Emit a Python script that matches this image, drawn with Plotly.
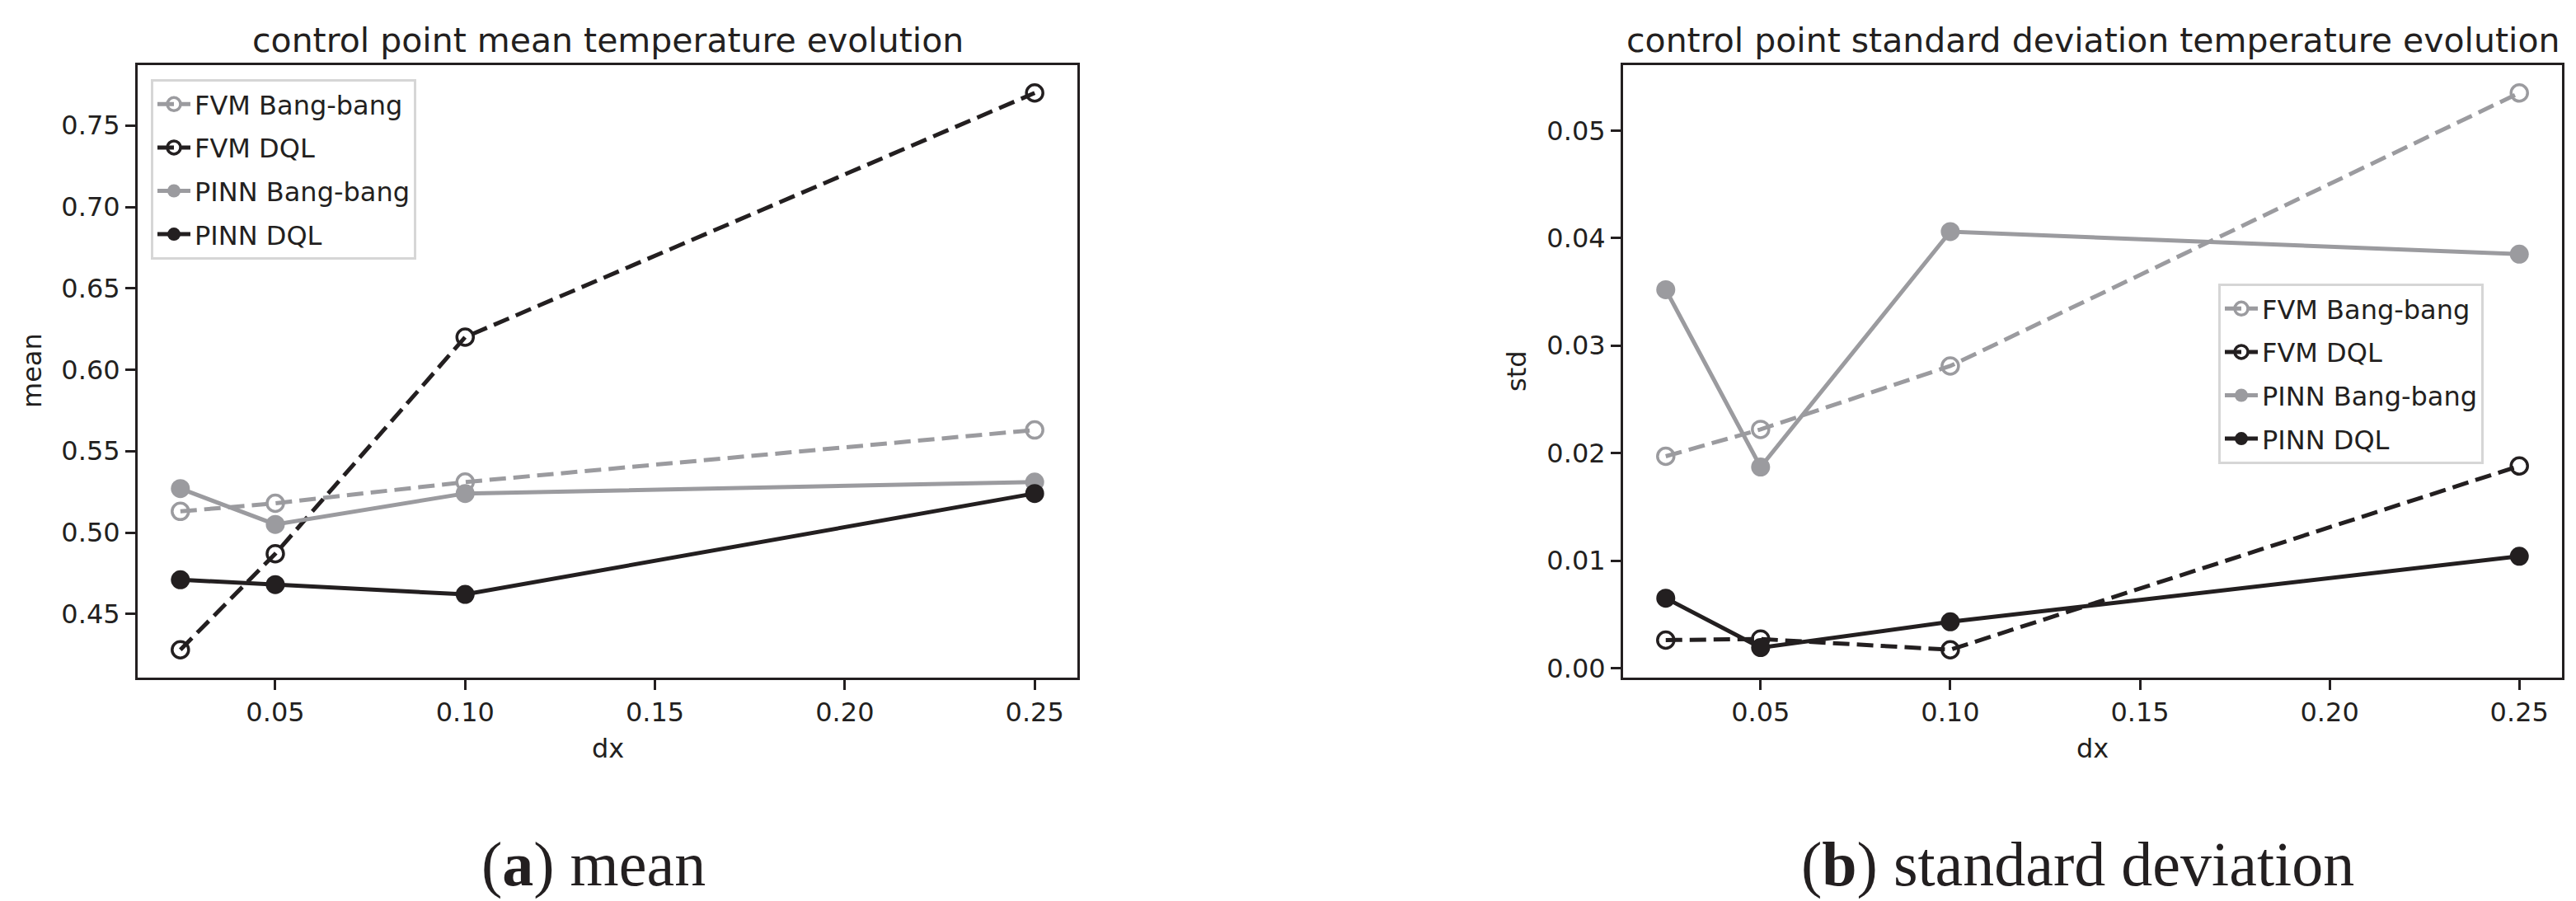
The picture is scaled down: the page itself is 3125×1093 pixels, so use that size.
import plotly.graph_objects as go

# ---------------- data ----------------
dx = [0.025, 0.05, 0.10, 0.25]

mean_fvm_bb = [0.513, 0.518, 0.531, 0.563]
mean_fvm_dql = [0.428, 0.487, 0.620, 0.770]
mean_pinn_bb = [0.527, 0.505, 0.524, 0.531]
mean_pinn_dql = [0.471, 0.468, 0.462, 0.524]

std_fvm_bb = [0.0197, 0.0222, 0.0281, 0.0535]
std_fvm_dql = [0.0026, 0.0027, 0.0017, 0.0188]
std_pinn_bb = [0.0352, 0.0187, 0.0406, 0.0385]
std_pinn_dql = [0.0065, 0.0019, 0.0043, 0.0104]

series_names = ["FVM Bang-bang", "FVM DQL", "PINN Bang-bang", "PINN DQL"]
x_ticks = [0.05, 0.10, 0.15, 0.20, 0.25]
mean_ticks = [0.45, 0.50, 0.55, 0.60, 0.65, 0.70, 0.75]
std_ticks = [0.00, 0.01, 0.02, 0.03, 0.04, 0.05]

titles = ["control point mean temperature evolution",
          "control point standard deviation temperature evolution"]
y_labels = ["mean", "std"]
x_label = "dx"
captions = ["(<b>a</b>) mean", "(<b>b</b>) standard deviation"]

# ---------------- style ----------------
W, H = 3125, 1093
GRAY = "#9b9b9f"
DARK = "#231f20"
FONT = "DejaVu Sans"
TICK_FS = 32
LW = 5
DASH = "20px,9px"


def px_x(p):
    return p / W


def px_y(p):
    return 1 - p / H


def auto_range(vals):
    lo, hi = min(vals), max(vals)
    m = 0.05 * (hi - lo)
    return [lo - m, hi + m]


fig = go.Figure()

panels = [
    (["x", "y"], [mean_fvm_bb, mean_fvm_dql, mean_pinn_bb, mean_pinn_dql], "legend"),
    (["x2", "y2"], [std_fvm_bb, std_fvm_dql, std_pinn_bb, std_pinn_dql], "legend2"),
]

styles = [
    dict(color=GRAY, dash=DASH, symbol="circle-open"),
    dict(color=DARK, dash=DASH, symbol="circle-open"),
    dict(color=GRAY, dash="solid", symbol="circle"),
    dict(color=DARK, dash="solid", symbol="circle"),
]

for (xa, ya), series, leg in panels:
    for name, vals, st in zip(series_names, series, styles):
        open_ = st["symbol"] == "circle-open"
        fig.add_trace(go.Scatter(
            x=dx, y=vals, name=name, mode="lines+markers",
            xaxis=xa, yaxis=ya, legend=leg,
            line=dict(color=st["color"], width=LW, dash=st["dash"]),
            marker=dict(symbol=st["symbol"], size=20 if open_ else 23,
                        color=st["color"],
                        line=dict(width=3.5 if open_ else 0, color=st["color"])),
            legendgroup=leg + name,
        ))

all_mean = mean_fvm_bb + mean_fvm_dql + mean_pinn_bb + mean_pinn_dql
all_std = std_fvm_bb + std_fvm_dql + std_pinn_bb + std_pinn_dql
x_range = auto_range(dx)

axis_common = dict(
    showline=True, linecolor=DARK, linewidth=3, mirror=True,
    ticks="outside", ticklen=12, tickwidth=3, tickcolor=DARK,
    showgrid=False, zeroline=False, automargin=False,
    tickfont=dict(family=FONT, size=TICK_FS, color=DARK),
)

ax_top, ax_bot = 71, 814
left_dom = [px_x(159), px_x(1299)]
right_dom = [px_x(1961), px_x(3100)]
y_dom = [px_y(ax_bot), px_y(ax_top)]

fig.update_layout(
    width=W, height=H,
    margin=dict(l=0, r=0, t=0, b=0),
    paper_bgcolor="white", plot_bgcolor="white",
    font=dict(family=FONT, color=DARK),
    xaxis=dict(domain=left_dom, range=x_range, tickvals=x_ticks,
               ticktext=[f"{v:.2f}" for v in x_ticks], anchor="y", **axis_common),
    yaxis=dict(domain=y_dom, range=auto_range(all_mean), tickvals=mean_ticks,
               ticktext=[f"{v:.2f}" for v in mean_ticks], anchor="x", **axis_common),
    xaxis2=dict(domain=right_dom, range=x_range, tickvals=x_ticks,
                ticktext=[f"{v:.2f}" for v in x_ticks], anchor="y2", **axis_common),
    yaxis2=dict(domain=y_dom, range=auto_range(all_std), tickvals=std_ticks,
                ticktext=[f"{v:.2f}" for v in std_ticks], anchor="x2", **axis_common),
    legend=dict(x=px_x(175), y=px_y(88), xanchor="left", yanchor="top",
                bgcolor="white", bordercolor="#d6d6d6", borderwidth=3,
                font=dict(family=FONT, size=TICK_FS, color=DARK),
                tracegroupgap=8, itemwidth=40),
    legend2=dict(x=px_x(2683), y=px_y(336), xanchor="left", yanchor="top",
                 bgcolor="white", bordercolor="#d6d6d6", borderwidth=3,
                 font=dict(family=FONT, size=TICK_FS, color=DARK),
                 tracegroupgap=8, itemwidth=40),
    showlegend=True,
)

annotations = []
centers = [(159 + 1299) / 2, (1961 + 3100) / 2]
ylabel_x = [31, 1832]
cap_centers = [712, 2512]
for i in range(2):
    annotations.append(dict(text=titles[i], x=px_x(centers[i]), y=px_y(41),
                            xref="paper", yref="paper", showarrow=False,
                            xanchor="center", yanchor="middle",
                            font=dict(family=FONT, size=41, color=DARK)))
    annotations.append(dict(text=y_labels[i], x=px_x(ylabel_x[i]), y=px_y(442),
                            xref="paper", yref="paper", showarrow=False,
                            textangle=-90, xanchor="center", yanchor="middle",
                            font=dict(family=FONT, size=TICK_FS, color=DARK)))
    annotations.append(dict(text=x_label, x=px_x(centers[i]), y=px_y(900),
                            xref="paper", yref="paper", showarrow=False,
                            xanchor="center", yanchor="middle",
                            font=dict(family=FONT, size=TICK_FS, color=DARK)))
    annotations.append(dict(text=captions[i], x=px_x(cap_centers[i]), y=px_y(1040),
                            xref="paper", yref="paper", showarrow=False,
                            xanchor="center", yanchor="middle",
                            font=dict(family="Liberation Serif", size=76, color=DARK)))
fig.update_layout(annotations=annotations)

fig.write_html("out.html")
